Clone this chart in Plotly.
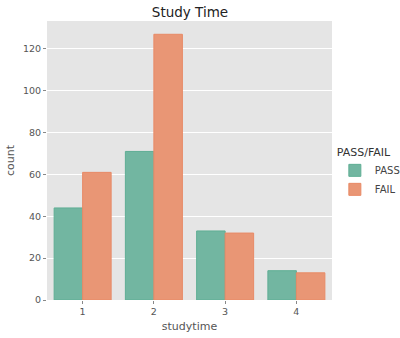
import plotly.graph_objects as go

# Counts of students per weekly study-time band, split by outcome
studytime = ["1", "2", "3", "4"]
pass_counts = [44, 71, 33, 14]
fail_counts = [61, 127, 32, 13]
y_ticks = [0, 20, 40, 60, 80, 100, 120]

PASS_COLOR = "#72b6a1"
FAIL_COLOR = "#e99675"
FONT = "DejaVu Sans"

fig = go.Figure()
fig.add_trace(go.Bar(
    x=studytime, y=pass_counts, name="PASS",
    marker=dict(color=PASS_COLOR, line=dict(color="#5fae94", width=1)),
))
fig.add_trace(go.Bar(
    x=studytime, y=fail_counts, name="FAIL",
    marker=dict(color=FAIL_COLOR, line=dict(color="#e88a66", width=1)),
))

ymax = max(max(pass_counts), max(fail_counts)) * 1.05

fig.update_layout(
    width=400, height=338,
    margin=dict(l=47, r=68, t=21, b=38, autoexpand=False),
    paper_bgcolor="white",
    plot_bgcolor="#e5e5e5",
    barmode="group",
    bargap=0.2,
    bargroupgap=0,
    font=dict(family=FONT, color="#555555", size=10),
    title=dict(text="Study Time", x=0.475, xanchor="center", y=0.964, yanchor="middle",
               font=dict(family=FONT, size=13.5, color="#222222")),
    xaxis=dict(
        title=dict(text="studytime", font=dict(size=11, color="#555555"), standoff=5),
        range=[-0.5, 3.5], showgrid=False, zeroline=False,
        ticks="outside", ticklen=3, tickcolor="#888888", tickwidth=1,
        tickfont=dict(size=9.5, color="#555555"),
    ),
    yaxis=dict(
        title=dict(text="count", font=dict(size=11, color="#555555"), standoff=6),
        range=[0, ymax], tickvals=y_ticks, showgrid=True, gridcolor="white", gridwidth=1,
        zeroline=False, ticks="outside", ticklen=3, tickcolor="#888888", tickwidth=1,
        tickfont=dict(size=9.5, color="#555555"),
    ),
    legend=dict(
        title=dict(text="PASS/FAIL", font=dict(size=11, color="#333333")),
        x=1.01, xanchor="left", y=0.455, yanchor="middle",
        font=dict(size=10, color="#444444"),
        bgcolor="rgba(0,0,0,0)", itemwidth=30, tracegroupgap=0,
    ),
)

fig.write_html("out.html")
